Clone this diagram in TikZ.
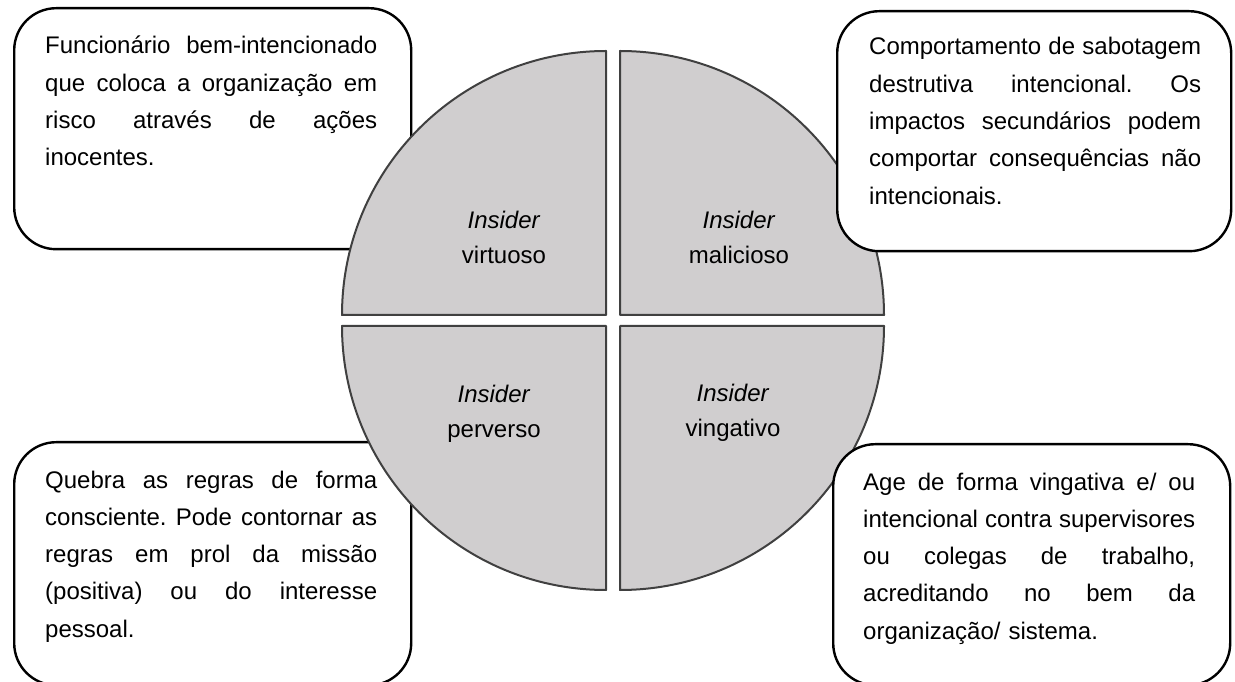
\documentclass[tikz,border=0pt]{standalone}
\usepackage{fontspec}
\setmainfont{Liberation Sans}
\definecolor{quadfill}{RGB}{208,206,207}
\definecolor{quadline}{RGB}{64,64,64}
\newcommand\jline[1]{\leavevmode\hbox to 332pt{\frenchspacing\spaceskip=\fontdimen2\font plus 1fil\relax #1}}
\begin{document}
\begin{tikzpicture}[x=1pt,y=1pt,
  quad/.style={fill=quadfill, draw=quadline, line width=2pt, line join=round},
  box/.style={draw=black, fill=white, line width=2.4pt, rounded corners=42pt, inner sep=0pt, anchor=north west},
  desc/.style={anchor=base west, inner sep=0pt, text width=332pt, align=left, font=\fontsize{24}{37.3}\selectfont\frenchspacing},
  lab/.style={anchor=base, inner sep=0pt, text width=220pt, align=center, font=\fontsize{24}{35}\selectfont}]
\useasboundingbox (0,0) rectangle (1235,681);
% boxes lying under the circle
\node[box, minimum width=397pt, minimum height=241pt] (tlbox) at (13,674) {};
\node[box, minimum width=397pt, minimum height=243pt] (blbox) at (13,240) {};
% the four quadrants
\draw[quad] (606,366) -- ++(-264,0) arc[start angle=180, end angle=90, radius=264] -- cycle;
\draw[quad] (620,366) -- ++(0,264) arc[start angle=90, end angle=0, radius=264] -- cycle;
\draw[quad] (606,355) -- ++(-264,0) arc[start angle=180, end angle=270, radius=264] -- cycle;
\draw[quad] (620,355) -- ++(264,0) arc[start angle=0, end angle=-90, radius=264] -- cycle;
% boxes lying over the circle
\node[box, minimum width=394pt, minimum height=240pt] (trbox) at (836,671) {};
\node[box, minimum width=397pt, minimum height=241pt] (brbox) at (832,238) {};
% descriptions
\node[desc] (tltext) at (45,627) {\jline{Funcionário bem-intencionado}\\\jline{que coloca a organização em}\\\jline{risco através de ações}\\inocentes.};
\node[desc] (trtext) at (869,626) {\jline{Comportamento de sabotagem}\\\jline{destrutiva intencional. Os}\\\jline{impactos secundários podem}\\\jline{comportar consequências não}\\intencionais.};
\node[desc] (bltext) at (45,193) {\jline{Quebra as regras de forma}\\\jline{consciente. Pode contornar as}\\\jline{regras em prol da missão}\\\jline{(positiva) ou do interesse}\\pessoal.};
\node[desc] (brtext) at (863,191) {\jline{Age de forma vingativa e/ ou}\\\jline{intencional contra supervisores}\\\jline{ou colegas de trabalho,}\\\jline{acreditando no bem da}\\organização/ sistema.};
% quadrant labels
\node[lab] (virtuoso) at (504,452) {\textit{Insider}\\virtuoso};
\node[lab] (malicioso) at (739,452) {\textit{Insider}\\malicioso};
\node[lab] (perverso) at (494,278) {\textit{Insider}\\perverso};
\node[lab] (vingativo) at (733,279) {\textit{Insider}\\vingativo};
\end{tikzpicture}
\end{document}
